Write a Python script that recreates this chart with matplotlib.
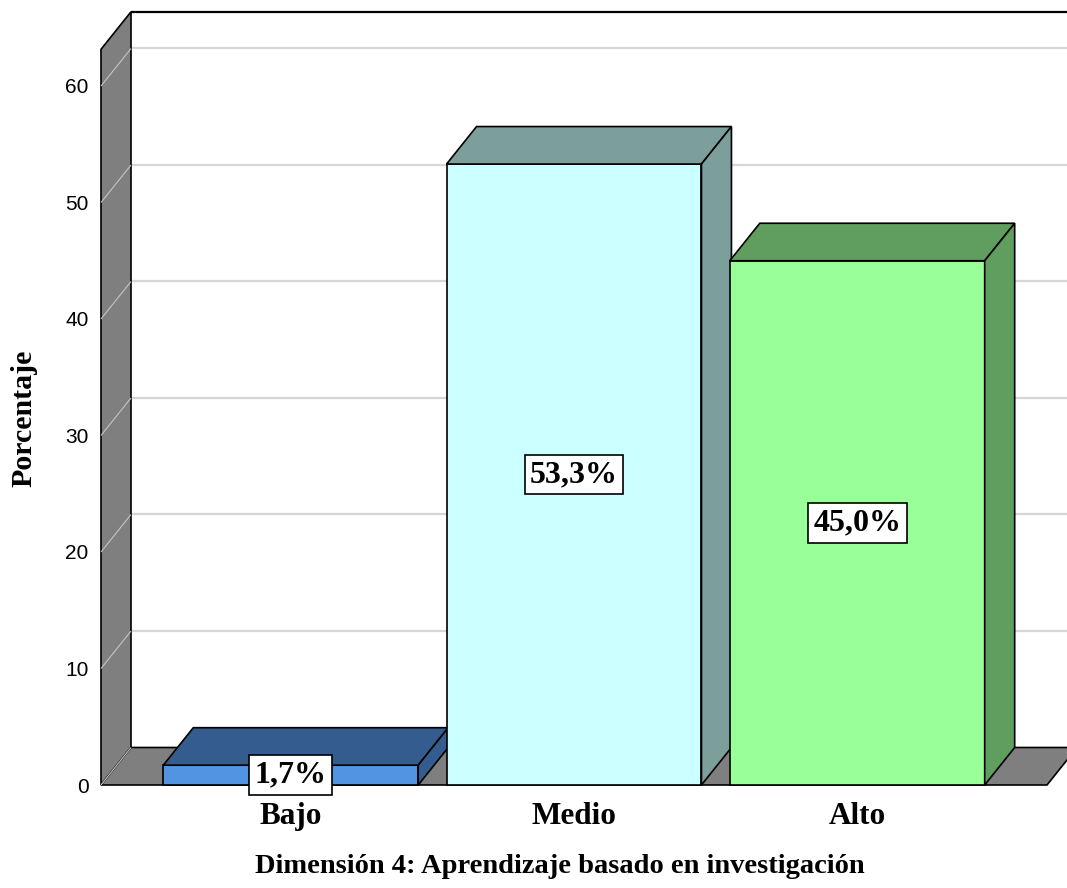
import matplotlib
matplotlib.use("Agg")
import matplotlib.pyplot as plt
from matplotlib.patches import Polygon
from matplotlib.transforms import IdentityTransform

# Data
categories = ["Bajo", "Medio", "Alto"]
percentages = [1.7, 53.3, 45.0]
value_labels = ["1,7%", "53,3%", "45,0%"]
y_ticks = [0, 10, 20, 30, 40, 50, 60]

front_colors = ["#5294E2", "#CCFFFF", "#99FF99"]
shade_colors = ["#345C8F", "#7D9F9C", "#5F9E5F"]
wall_color = "#7F7F7F"
grid_color = "#D6D6D6"

SERIF = ["Liberation Serif", "DejaVu Serif"]
SANS = ["Liberation Sans", "DejaVu Sans"]

W, H, DPI = 1067, 888, 100
fig = plt.figure(figsize=(W / DPI, H / DPI), dpi=DPI)
fig.patch.set_facecolor("white")

ax = fig.add_axes([101 / W, 1 - 785 / H, (1047 - 101) / W, (785 - 49.3) / H])
ax.set_xlim(-0.67, 2.67)
ax.set_ylim(0, 63.15)
ax.patch.set_visible(False)
for s in ax.spines.values():
    s.set_visible(False)

# depth of the 3D box in display pixels
DX, DY = 30.0, 37.5
BAR_W = 0.9
xmin, xmax = ax.get_xlim()
ymin, ymax = ax.get_ylim()


def disp(x, y, back=False):
    px, py = ax.transData.transform((x, y))
    if back:
        px += DX
        py += DY
    return (px, py)


def face(points, fc, ec="black", lw=1.2, z=1):
    p = Polygon(points, closed=True, facecolor=fc, edgecolor=ec, linewidth=lw,
                transform=IdentityTransform(), clip_on=False, zorder=z,
                joinstyle="miter")
    ax.add_artist(p)
    return p


def line(p0, p1, color="black", lw=1.2, z=1):
    ax.add_artist(plt.Line2D([p0[0], p1[0]], [p0[1], p1[1]], color=color,
                             linewidth=lw, transform=IdentityTransform(),
                             zorder=z, solid_capstyle="butt", clip_on=False))


# back wall gridlines
far_right = W + 50
for t in y_ticks:
    bx, by = disp(xmin, t, back=True)
    line((bx, by), (far_right, by), color=grid_color, lw=1.6, z=0.5)

# back wall top edge
tl = disp(xmin, ymax, back=True)
line(tl, (far_right, tl[1]), lw=1.6, z=0.6)

# left wall
face([disp(xmin, ymin), disp(xmin, ymax), disp(xmin, ymax, True), disp(xmin, ymin, True)],
     wall_color, z=1)
for t in y_ticks:
    line(disp(xmin, t), disp(xmin, t, True), color="#C4C4C4", lw=0.8, z=1.1)

# floor
face([disp(xmin, ymin), disp(xmax, ymin), disp(xmax, ymin, True), disp(xmin, ymin, True)],
     wall_color, z=1.2)
line(disp(xmin, ymin), disp(xmin, ymin, True), color="#C4C4C4", lw=0.8, z=1.25)

# bars
for i, (v, fcol, scol) in enumerate(zip(percentages, front_colors, shade_colors)):
    x0, x1 = i - BAR_W / 2, i + BAR_W / 2
    z = 2 + i * 0.1
    face([disp(x0, 0), disp(x1, 0), disp(x1, v), disp(x0, v)], fcol, z=z)
    face([disp(x0, v), disp(x1, v), disp(x1, v, True), disp(x0, v, True)], scol, z=z)
    face([disp(x1, 0), disp(x1, v), disp(x1, v, True), disp(x1, 0, True)], scol, z=z)
    ax.text(i, v / 2, value_labels[i], ha="center", va="center",
            fontsize=23, fontweight="bold", family=SERIF, zorder=5,
            bbox=dict(boxstyle="square,pad=0.17", facecolor="white",
                      edgecolor="black", linewidth=1.2))

# axes ticks and labels
ax.set_yticks(y_ticks)
ax.set_yticklabels([str(t) for t in y_ticks], family=SANS, fontsize=15)
ax.set_xticks(range(len(categories)))
ax.set_xticklabels(categories, family=SERIF, fontsize=22.5, fontweight="bold")
ax.tick_params(axis="y", length=0, pad=9)
ax.tick_params(axis="x", length=0, pad=12)

fig.text(24 / W, 1 - 418 / H, "Porcentaje", rotation=90, ha="center", va="center",
         family=SERIF, fontsize=21.5, fontweight="bold")
fig.text(560 / W, 1 - 866 / H, "Dimensión 4: Aprendizaje basado en investigación",
         ha="center", va="center", family=SERIF, fontsize=20.5, fontweight="bold")

fig.savefig("out.png", dpi=DPI)
